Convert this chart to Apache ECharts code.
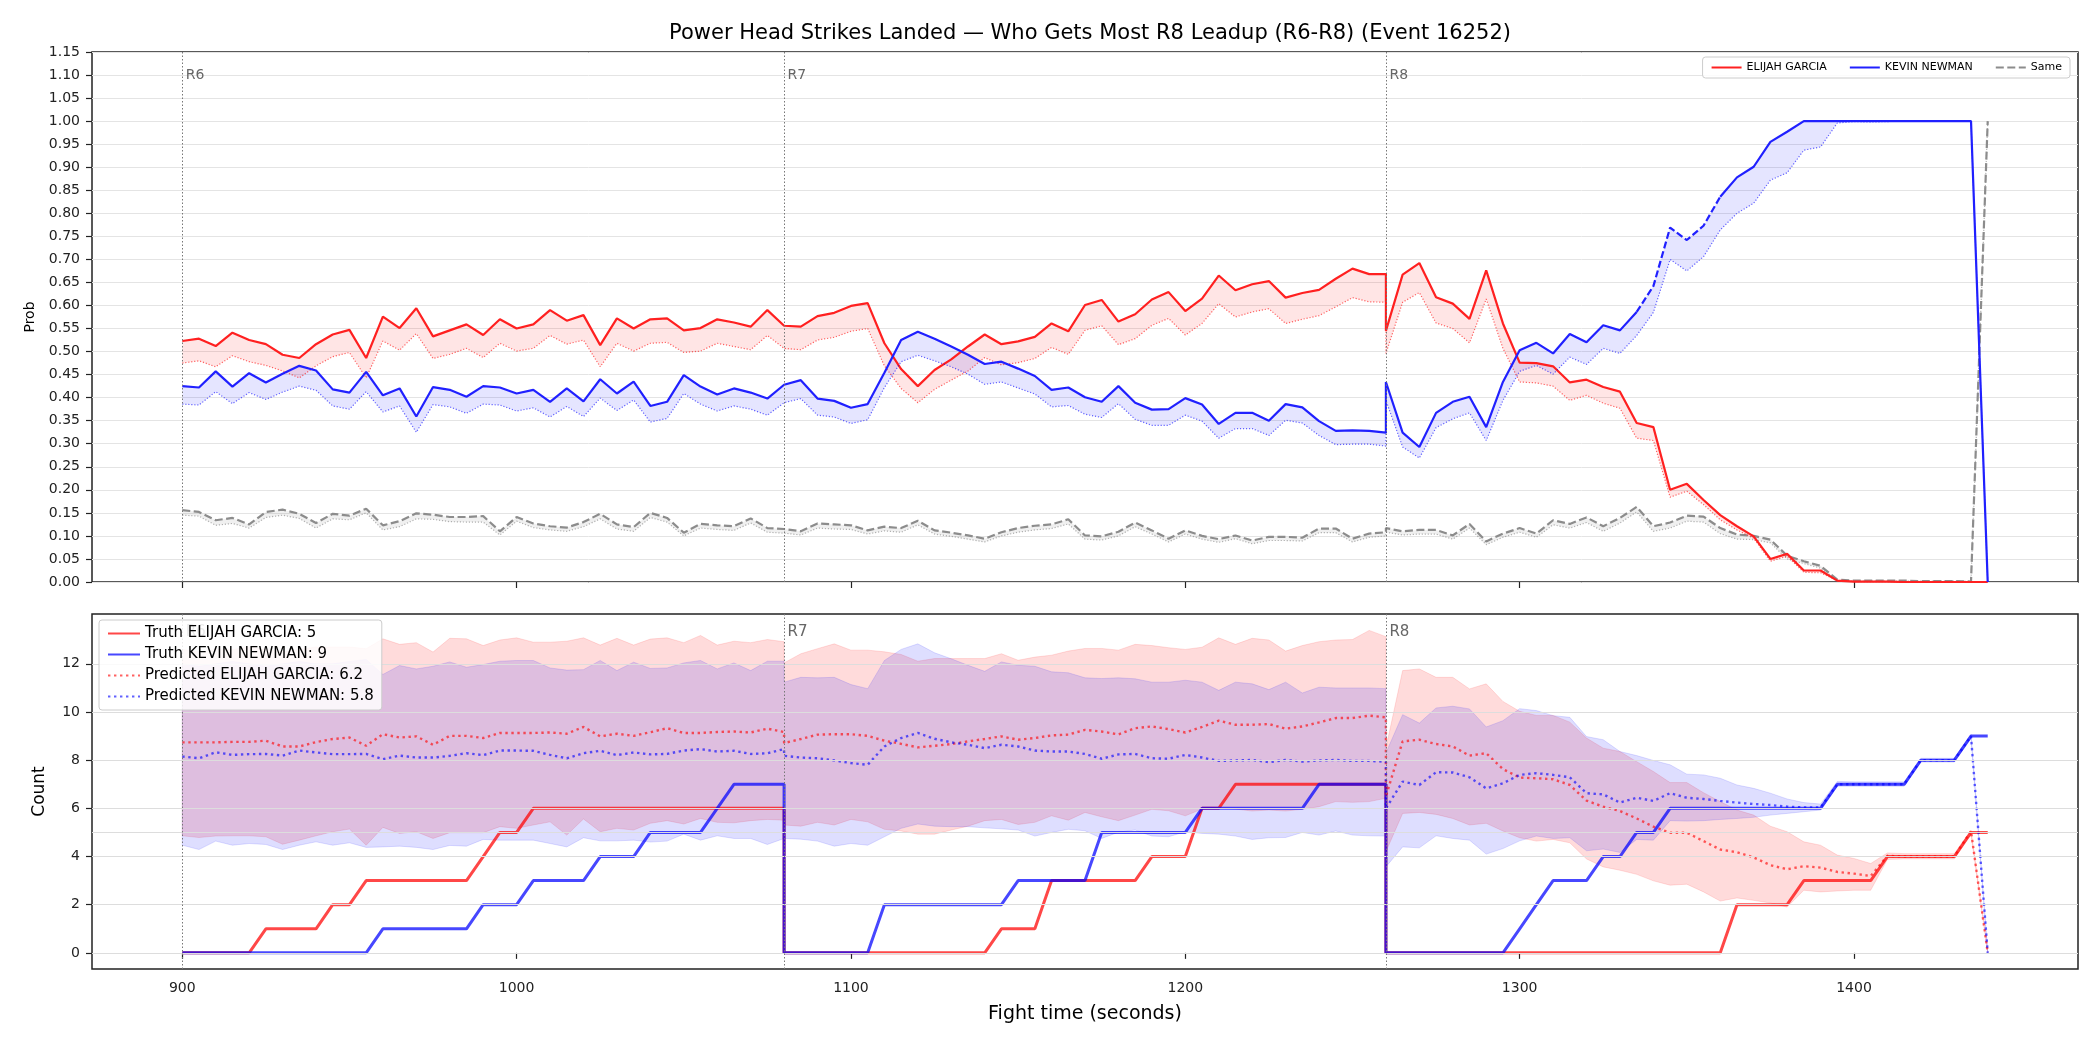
<!DOCTYPE html>
<html>
<head>
    <meta charset="utf-8">
    <title>Power Head Strikes Landed</title>
    <script src="https://cdn.jsdelivr.net/npm/echarts@6.0.0/dist/echarts.min.js"></script>
    <style>
        html, body { margin: 0; padding: 0; background: #fff; }
        #main { width: 2100px; height: 1050px; }
    </style>
</head>
<body>
    <div id="main"></div>
    <script type="text/javascript">
// sample times per round (each round starts where the previous ended)
var r6Times = [900,905,910,915,920,925,930,935,940,945,950,955,960,965,970,975,980,985,990,995,1000,1005,1010,1015,1020,1025,1030,1035,1040,1045,1050,1055,1060,1065,1070,1075,1080];
var r7Times = [1080,1085,1090,1095,1100,1105,1110,1115,1120,1125,1130,1135,1140,1145,1150,1155,1160,1165,1170,1175,1180,1185,1190,1195,1200,1205,1210,1215,1220,1225,1230,1235,1240,1245,1250,1255,1260];
var r8Times = [1260,1265,1270,1275,1280,1285,1290,1295,1300,1305,1310,1315,1320,1325,1330,1335,1340,1345,1350,1355,1360,1365,1370,1375,1380,1385,1390,1395,1400,1405,1410,1415,1420,1425,1430,1435,1440];
var times = r6Times.concat(r7Times, r8Times);

var roundStarts = [900, 1080, 1260];
var roundNames = ['R6', 'R7', 'R8'];
var xTicks = [900, 1000, 1100, 1200, 1300, 1400];
var countTicks = [0, 2, 4, 6, 8, 10, 12];
var countGrid = [0, 2, 4, 5, 6, 8, 10, 12];

// top panel: probability of most strikes
var redProb = [
    0.523,0.528,0.512,0.541,0.525,0.516,0.493,0.486,0.516,0.537,0.547,0.486,0.576,0.551,0.594,0.533,0.546,0.559,0.536,0.570,0.550,0.559,0.590,0.567,0.579,0.514,0.572,0.550,0.570,0.572,0.546,0.551,0.570,0.563,0.554,0.590,0.556,
    0.554,0.554,0.577,0.584,0.599,0.605,0.518,0.462,0.425,0.460,0.483,0.511,0.537,0.516,0.522,0.532,0.561,0.544,0.601,0.612,0.565,0.581,0.613,0.629,0.588,0.615,0.665,0.633,0.646,0.653,0.617,0.627,0.634,0.658,0.680,0.668,0.668,
    0.545,0.667,0.692,0.618,0.604,0.571,0.676,0.561,0.476,0.475,0.468,0.433,0.439,0.423,0.413,0.345,0.336,0.200,0.213,0.178,0.145,0.121,0.099,0.050,0.061,0.025,0.025,0.003,0.001,0.001,0.001,0,0,0,0,0,0
];
var redProbLo = [
    0.475,0.480,0.467,0.491,0.478,0.470,0.458,0.443,0.469,0.489,0.498,0.443,0.523,0.503,0.539,0.485,0.494,0.507,0.487,0.518,0.501,0.507,0.535,0.516,0.525,0.467,0.518,0.501,0.518,0.520,0.498,0.501,0.518,0.511,0.504,0.535,0.507,
    0.504,0.504,0.525,0.531,0.544,0.550,0.469,0.420,0.389,0.418,0.438,0.458,0.487,0.471,0.476,0.485,0.509,0.494,0.546,0.556,0.515,0.528,0.557,0.572,0.536,0.561,0.604,0.575,0.586,0.593,0.561,0.570,0.578,0.597,0.617,0.608,0.607,
    0.496,0.607,0.628,0.562,0.550,0.519,0.614,0.507,0.434,0.432,0.425,0.394,0.405,0.388,0.377,0.312,0.307,0.184,0.197,0.168,0.135,0.113,0.095,0.045,0.056,0.021,0.020,0.003,0.001,0,0,0,0,0,0,0,0
];
var blueProb = [
    0.425,0.422,0.457,0.424,0.453,0.433,0.452,0.469,0.459,0.418,0.411,0.456,0.405,0.420,0.359,0.423,0.417,0.402,0.425,0.422,0.409,0.417,0.391,0.420,0.392,0.440,0.409,0.435,0.382,0.391,0.449,0.424,0.407,0.420,0.411,0.398,0.428,
    0.428,0.438,0.398,0.393,0.378,0.386,0.454,0.525,0.543,0.528,0.511,0.493,0.473,0.478,0.463,0.447,0.417,0.422,0.401,0.391,0.425,0.389,0.374,0.375,0.399,0.385,0.343,0.367,0.367,0.350,0.386,0.379,0.349,0.328,0.329,0.328,0.324,
    0.434,0.324,0.293,0.367,0.391,0.402,0.336,0.434,0.503,0.519,0.496,0.538,0.520,0.557,0.546,0.586,0.642,0.769,0.742,0.773,0.836,0.878,0.901,0.955,0.977,1,1,1,1,1,1,1,1,1,1,1,0
];
var blueProbLo = [
    0.386,0.384,0.413,0.387,0.411,0.396,0.412,0.425,0.416,0.382,0.375,0.413,0.369,0.382,0.325,0.385,0.380,0.366,0.386,0.384,0.371,0.378,0.358,0.381,0.359,0.399,0.372,0.395,0.347,0.355,0.409,0.386,0.371,0.382,0.375,0.362,0.389,
    0.389,0.398,0.362,0.358,0.344,0.352,0.422,0.478,0.492,0.480,0.467,0.451,0.429,0.434,0.421,0.408,0.380,0.383,0.364,0.357,0.387,0.353,0.340,0.340,0.362,0.349,0.312,0.333,0.333,0.318,0.351,0.345,0.318,0.298,0.299,0.299,0.295,
    0.394,0.293,0.269,0.335,0.354,0.367,0.307,0.394,0.457,0.470,0.451,0.488,0.472,0.507,0.496,0.535,0.585,0.700,0.675,0.706,0.764,0.800,0.822,0.872,0.888,0.937,0.944,0.996,0.999,0.998,0.999,1,1,1,1,1,0
];
var sameProb = [
    0.156,0.152,0.134,0.139,0.125,0.152,0.157,0.148,0.128,0.148,0.144,0.159,0.123,0.132,0.149,0.146,0.141,0.141,0.143,0.110,0.141,0.127,0.121,0.118,0.130,0.148,0.125,0.119,0.150,0.139,0.107,0.126,0.123,0.121,0.138,0.117,0.115,
    0.115,0.110,0.127,0.125,0.123,0.112,0.120,0.117,0.133,0.112,0.107,0.101,0.094,0.108,0.117,0.122,0.125,0.136,0.101,0.099,0.109,0.129,0.112,0.094,0.112,0.100,0.093,0.101,0.090,0.098,0.098,0.096,0.116,0.116,0.094,0.105,0.108,
    0.117,0.110,0.113,0.113,0.101,0.126,0.088,0.105,0.117,0.105,0.134,0.126,0.140,0.121,0.139,0.163,0.121,0.129,0.144,0.142,0.117,0.103,0.100,0.092,0.057,0.045,0.035,0.005,0.003,0.003,0.003,0.003,0.002,0.002,0.002,0.001,1
];
var sameProbLo = [
    0.145,0.143,0.123,0.127,0.117,0.140,0.145,0.138,0.117,0.137,0.135,0.150,0.113,0.120,0.137,0.136,0.131,0.130,0.130,0.102,0.132,0.118,0.113,0.110,0.120,0.137,0.115,0.110,0.140,0.130,0.100,0.117,0.114,0.112,0.128,0.108,0.106,
    0.106,0.102,0.117,0.115,0.114,0.104,0.111,0.108,0.124,0.104,0.099,0.093,0.087,0.100,0.108,0.113,0.116,0.126,0.093,0.091,0.100,0.120,0.104,0.087,0.104,0.093,0.086,0.094,0.083,0.090,0.090,0.089,0.107,0.107,0.087,0.097,0.100,
    0.108,0.102,0.104,0.104,0.093,0.117,0.081,0.097,0.108,0.097,0.124,0.117,0.129,0.110,0.128,0.152,0.110,0.117,0.132,0.130,0.105,0.093,0.092,0.085,0.050,0.040,0.030,0.003,0.002,0.002,0.002,0.002,0.002,0.002,0.002,0.001,1
];

// bottom panel: counts
var truthRed = [
    0,0,0,0,0,1,1,1,1,2,2,3,3,3,3,3,3,3,4,5,5,6,6,6,6,6,6,6,6,6,6,6,6,6,6,6,6,
    0,0,0,0,0,0,0,0,0,0,0,0,0,1,1,1,3,3,3,3,3,3,4,4,4,6,6,7,7,7,7,7,7,7,7,7,7,
    0,0,0,0,0,0,0,0,0,0,0,0,0,0,0,0,0,0,0,0,0,2,2,2,2,3,3,3,3,3,4,4,4,4,4,5,5
];
var truthBlue = [
    0,0,0,0,0,0,0,0,0,0,0,0,1,1,1,1,1,1,2,2,2,3,3,3,3,4,4,4,5,5,5,5,6,7,7,7,7,
    0,0,0,0,0,0,2,2,2,2,2,2,2,2,3,3,3,3,3,5,5,5,5,5,5,6,6,6,6,6,6,6,7,7,7,7,7,
    0,0,0,0,0,0,0,0,1,2,3,3,3,4,4,5,5,6,6,6,6,6,6,6,6,6,6,7,7,7,7,7,8,8,8,9,9
];
var predRed = [
    8.74,8.74,8.74,8.76,8.76,8.81,8.57,8.57,8.75,8.88,8.94,8.60,9.08,8.94,8.99,8.64,9.01,9.01,8.92,9.13,9.13,9.13,9.15,9.10,9.38,8.99,9.10,9.01,9.16,9.33,9.13,9.13,9.17,9.19,9.15,9.31,9.17,
    8.71,8.88,9.06,9.08,9.08,9.01,8.81,8.68,8.53,8.60,8.67,8.78,8.88,8.99,8.85,8.92,9.03,9.06,9.26,9.19,9.07,9.33,9.40,9.29,9.15,9.38,9.64,9.47,9.47,9.50,9.31,9.40,9.57,9.75,9.75,9.85,9.78,
    6.50,8.78,8.85,8.67,8.57,8.19,8.29,7.63,7.28,7.25,7.21,6.97,6.32,6.07,5.89,5.58,5.24,4.99,4.99,4.64,4.29,4.18,3.96,3.64,3.47,3.60,3.54,3.36,3.29,3.19,4.03,4.00,4.00,4.00,4.00,5.06,0
];
var predBlue = [
    8.15,8.08,8.33,8.22,8.25,8.26,8.19,8.40,8.32,8.25,8.25,8.26,8.04,8.19,8.11,8.11,8.18,8.29,8.21,8.40,8.40,8.39,8.22,8.08,8.29,8.39,8.21,8.32,8.24,8.26,8.40,8.46,8.36,8.39,8.26,8.29,8.46,
    8.18,8.11,8.08,7.99,7.88,7.81,8.57,8.92,9.13,8.89,8.74,8.64,8.50,8.64,8.57,8.40,8.36,8.36,8.26,8.06,8.24,8.26,8.08,8.06,8.22,8.11,7.97,7.99,8.01,7.92,8.01,7.94,7.99,8.01,7.97,7.97,7.94,
    6.00,7.11,6.97,7.50,7.49,7.29,6.83,7.04,7.39,7.46,7.39,7.29,6.63,6.58,6.24,6.44,6.31,6.63,6.44,6.39,6.31,6.24,6.18,6.14,6.07,6.04,6.04,7.00,7.00,7.00,7.00,7.00,8.00,8.00,8.00,9.00,0
];
var redHi = [
    12.6,12.5,12.6,12.6,12.7,12.6,12.5,12.6,12.7,12.7,12.7,12.63,13.04,12.81,12.88,12.49,13.06,13.04,12.76,12.99,13.08,12.90,12.90,12.94,13.08,12.78,13.06,12.78,13.03,13.08,12.88,13.18,12.78,12.94,12.88,13.01,12.92,
    12.04,12.42,12.63,12.83,12.57,12.57,12.50,12.39,12.11,12.22,12.22,12.22,12.22,12.42,12.15,12.28,12.36,12.53,12.64,12.64,12.57,12.81,12.76,12.67,12.60,12.69,13.08,12.81,13.06,12.99,12.53,12.76,12.92,12.99,13.01,13.39,13.13,
    8.50,11.72,11.79,11.44,11.44,10.96,11.17,10.44,10.03,9.86,9.86,9.58,8.92,8.50,8.36,7.94,7.53,7.07,7.07,6.65,6.28,5.93,5.72,5.26,5.03,4.61,4.47,4.06,3.92,3.71,4.15,4.12,4.12,4.12,4.12,5.10,0.05
];
var redLo = [
    4.86,4.79,4.85,4.86,4.86,4.82,4.51,4.68,4.86,5.03,5.14,4.47,5.21,4.96,5.03,4.75,4.99,4.99,4.99,5.24,5.17,5.31,5.44,4.89,5.56,5.03,5.17,5.10,5.38,5.49,5.35,5.58,5.42,5.40,5.49,5.54,5.51,
    5.31,5.26,5.42,5.31,5.54,5.44,5.13,5.06,4.93,4.93,5.10,5.26,5.49,5.54,5.33,5.42,5.69,5.51,5.83,5.65,5.49,5.72,5.96,5.90,5.69,5.97,6.04,5.97,5.89,5.93,5.89,5.96,6.07,6.28,6.25,6.28,6.42,
    4.20,5.79,5.83,5.75,5.58,5.31,5.38,5.06,4.78,4.64,4.71,4.57,3.90,3.57,3.43,3.26,2.99,2.81,2.85,2.53,2.15,2.28,2.18,2.07,1.90,2.60,2.53,2.57,2.60,2.60,3.88,3.90,3.90,3.90,3.90,4.90,0
];
var blueHi = [
    12.0,11.9,12.0,12.1,12.0,11.9,12.0,12.1,12.0,12.0,12.1,12.18,11.56,11.93,11.79,11.90,12.08,11.86,11.97,12.11,12.14,12.14,11.83,11.74,11.76,12.14,11.72,12.07,11.81,11.83,12.04,12.14,11.79,12.04,11.72,12.11,12.11,
    11.24,11.44,11.42,11.44,11.14,10.97,12.14,12.60,12.83,12.46,12.21,11.94,11.69,12.08,11.94,11.90,11.67,11.63,11.42,11.39,11.42,11.38,11.24,11.24,11.32,11.24,10.90,11.24,11.17,10.93,11.24,10.79,11.03,11.00,11.00,11.00,10.97,
    8.30,9.89,9.54,10.17,10.24,10.13,9.38,9.64,10.14,10.06,9.85,9.78,8.98,8.85,8.36,8.19,7.99,7.81,7.42,7.39,7.25,6.97,6.83,6.63,6.39,6.24,6.18,7.12,7.10,7.10,7.10,7.10,8.08,8.08,8.08,9.08,0.05
];
var blueLo = [
    4.47,4.29,4.64,4.47,4.54,4.50,4.29,4.47,4.61,4.47,4.57,4.38,4.40,4.43,4.38,4.29,4.46,4.43,4.71,4.68,4.68,4.68,4.54,4.40,4.78,4.65,4.65,4.68,4.60,4.64,4.93,4.68,4.86,4.75,4.75,4.50,4.75,
    4.75,4.72,4.64,4.43,4.54,4.47,4.82,5.17,5.35,5.26,5.24,5.24,5.19,5.15,5.10,4.85,5.00,5.13,5.07,4.75,5.01,5.10,4.85,4.82,5.03,4.96,4.93,4.85,4.71,4.78,4.79,5.00,4.89,5.06,4.89,4.86,4.85,
    3.57,4.40,4.36,4.86,4.75,4.68,4.10,4.33,4.65,4.85,4.75,4.78,4.24,4.31,4.17,4.71,4.68,5.49,5.47,5.49,5.54,5.58,5.63,5.72,5.79,5.86,5.93,6.92,6.92,6.92,6.92,6.92,7.92,7.92,7.92,8.90,0
];

// stretch of the KEVIN NEWMAN probability line drawn dashed
var blueDashSpan = [1335, 1360];

var FONT = 'DejaVu Sans';

function pairs(vals) {
    return times.map(function (t, i) { return [t, vals[i]]; });
}

function band(idx, hi, lo, fill, stroke) {
    return {
        type: 'custom', xAxisIndex: idx, yAxisIndex: idx, silent: true, clip: true, z: 1,
        data: [[times[0], lo[0]]],
        renderItem: function (params, api) {
            var pts = [];
            for (var i = 0; i < times.length; i++) pts.push(api.coord([times[i], hi[i]]));
            for (var j = times.length - 1; j >= 0; j--) pts.push(api.coord([times[j], lo[j]]));
            return {
                type: 'polygon',
                shape: { points: pts },
                style: { fill: fill, stroke: stroke || null, lineWidth: 1 }
            };
        }
    };
}

function line(name, idx, data, color, width, type, z) {
    return {
        name: name, type: 'line', xAxisIndex: idx, yAxisIndex: idx,
        data: data, symbol: 'none', silent: true, z: z || 3,
        lineStyle: { color: color, width: width, type: type || 'solid' },
        itemStyle: { color: color }
    };
}

var dashFrom = times.lastIndexOf(blueDashSpan[0]);
var dashTo = times.lastIndexOf(blueDashSpan[1]);
var blueSolidData = pairs(blueProb).map(function (p, i) {
    return (i > dashFrom && i < dashTo) ? [p[0], null] : p;
});
var blueDashData = pairs(blueProb).map(function (p, i) {
    return (i >= dashFrom && i <= dashTo) ? p : [p[0], null];
});

var roundLines = roundStarts.map(function (x) { return { xAxis: x }; });

var myChart = echarts.init(document.getElementById('main'));

var xAxisBase = {
    type: 'value', min: 873, max: 1467,
    axisLine: { show: false },
    axisTick: { show: true, customValues: xTicks, length: 6, lineStyle: { color: '#222', width: 1.2 } },
    splitLine: { show: false }
};

option = {
    animation: false,
    backgroundColor: '#fff',
    textStyle: { fontFamily: FONT },
    title: {
        text: 'Power Head Strikes Landed \u2014 Who Gets Most R8 Leadup (R6-R8) (Event 16252)',
        left: 1085, top: 18, textAlign: 'center',
        textStyle: { fontFamily: FONT, fontSize: 21, fontWeight: 'normal', color: '#000' }
    },
    grid: [
        { left: 92, right: 22, top: 52, height: 530, show: true, borderColor: '#222', borderWidth: 1.5, backgroundColor: 'transparent' },
        { left: 92, right: 22, top: 614, height: 355, show: true, borderColor: '#222', borderWidth: 1.5, backgroundColor: 'transparent' }
    ],
    legend: [
        {
            data: ['ELIJAH GARCIA', 'KEVIN NEWMAN', 'Same'],
            right: 30, top: 57, orient: 'horizontal', z: 20,
            itemWidth: 30, itemHeight: 12, itemGap: 22, padding: [5, 8],
            itemStyle: { opacity: 0 },
            backgroundColor: 'rgba(255,255,255,0.85)', borderColor: '#cccccc', borderWidth: 1, borderRadius: 3,
            textStyle: { fontFamily: FONT, fontSize: 11, color: '#000' }
        },
        {
            data: ['Truth ELIJAH GARCIA: 5', 'Truth KEVIN NEWMAN: 9', 'Predicted ELIJAH GARCIA: 6.2', 'Predicted KEVIN NEWMAN: 5.8'],
            left: 99, top: 620, orient: 'vertical', z: 20,
            itemWidth: 32, itemHeight: 14, itemGap: 6, padding: [6, 8],
            itemStyle: { opacity: 0 },
            backgroundColor: 'rgba(255,255,255,0.85)', borderColor: '#cccccc', borderWidth: 1, borderRadius: 3,
            textStyle: { fontFamily: FONT, fontSize: 15, color: '#000' }
        }
    ],
    xAxis: [
        Object.assign({}, xAxisBase, { gridIndex: 0, axisLabel: { show: false } }),
        Object.assign({}, xAxisBase, {
            gridIndex: 1,
            name: 'Fight time (seconds)', nameLocation: 'middle', nameGap: 36,
            nameTextStyle: { fontFamily: FONT, fontSize: 19, color: '#000' },
            axisLabel: {
                customValues: xTicks, margin: 12, fontFamily: FONT, fontSize: 14, color: '#222',
                formatter: function (v) { return String(v); }
            }
        })
    ],
    yAxis: [
        {
            type: 'value', gridIndex: 0, min: 0, max: 1.15, interval: 0.05,
            name: 'Prob', nameLocation: 'middle', nameGap: 55,
            nameTextStyle: { fontFamily: FONT, fontSize: 14, color: '#000' },
            axisLine: { show: false },
            axisTick: { show: true, length: 6, lineStyle: { color: '#222', width: 1.2 } },
            axisLabel: {
                margin: 12, fontFamily: FONT, fontSize: 14, color: '#222',
                formatter: function (v) { return v.toFixed(2); }
            },
            splitLine: { show: true, lineStyle: { color: '#e4e4e4', width: 1 } }
        },
        {
            type: 'value', gridIndex: 1, min: -0.67, max: 14.07,
            name: 'Count', nameLocation: 'middle', nameGap: 44,
            nameTextStyle: { fontFamily: FONT, fontSize: 17, color: '#000' },
            axisLine: { show: false },
            axisTick: { show: true, customValues: countTicks, length: 6, lineStyle: { color: '#222', width: 1.2 } },
            axisLabel: { customValues: countTicks, margin: 12, fontFamily: FONT, fontSize: 14, color: '#222' },
            splitLine: { show: false }
        }
    ],
    series: [
        // top panel
        {
            type: 'line', xAxisIndex: 0, yAxisIndex: 0, data: [], silent: true, z: 2,
            markLine: {
                silent: true, symbol: ['none', 'none'], label: { show: false },
                lineStyle: { color: '#777', width: 1, type: [1.5, 2] },
                data: roundLines
            },
            markPoint: {
                symbol: 'circle', symbolSize: 1, itemStyle: { color: 'rgba(0,0,0,0)' },
                label: { show: true, position: 'right', distance: 3, formatter: '{b}', color: '#666', fontFamily: FONT, fontSize: 14 },
                data: roundStarts.map(function (x, i) { return { name: roundNames[i], coord: [x, 1.10] }; })
            }
        },
        band(0, redProb, redProbLo, 'rgba(255,0,0,0.1)'),
        band(0, blueProb, blueProbLo, 'rgba(0,0,255,0.1)'),
        band(0, sameProb, sameProbLo, 'rgba(128,128,128,0.12)'),
        line('Same dotted', 0, pairs(sameProbLo), 'rgba(128,128,128,0.6)', 1.2, [1.2, 1.8]),
        line('Same', 0, pairs(sameProb), '#8c8c8c', 2.2, [8, 3.5]),
        line('ELIJAH GARCIA dotted', 0, pairs(redProbLo), 'rgba(255,0,0,0.6)', 1.2, [1.2, 1.8]),
        line('ELIJAH GARCIA', 0, pairs(redProb), '#ff2020', 2.2),
        line('KEVIN NEWMAN dotted', 0, pairs(blueProbLo), 'rgba(0,0,255,0.6)', 1.2, [1.2, 1.8]),
        line('KEVIN NEWMAN', 0, blueSolidData, '#2020ff', 2.2),
        line('KEVIN NEWMAN', 0, blueDashData, '#2020ff', 2.2, [7, 3]),

        // bottom panel
        {
            type: 'line', xAxisIndex: 1, yAxisIndex: 1, data: [], silent: true, z: 1,
            markLine: {
                silent: true, symbol: ['none', 'none'], label: { show: false },
                data: countGrid.map(function (v) {
                    return { yAxis: v, lineStyle: { color: '#dddddd', width: 1.2, type: 'solid' } };
                }).concat(roundStarts.map(function (x) {
                    return { xAxis: x, lineStyle: { color: '#777', width: 1, type: [1.5, 2] } };
                }))
            },
            markPoint: {
                symbol: 'circle', symbolSize: 1, itemStyle: { color: 'rgba(0,0,0,0)' },
                label: { show: true, position: 'right', distance: 3, formatter: '{b}', color: '#666', fontFamily: FONT, fontSize: 15 },
                data: roundStarts.map(function (x, i) { return { name: roundNames[i], coord: [x, 13.3] }; })
            }
        },
        band(1, redHi, redLo, 'rgba(255,0,0,0.14)', 'rgba(255,0,0,0.12)'),
        band(1, blueHi, blueLo, 'rgba(0,0,255,0.13)', 'rgba(0,0,255,0.12)'),
        line('Truth ELIJAH GARCIA: 5', 1, pairs(truthRed), 'rgba(255,0,0,0.72)', 3),
        line('Truth KEVIN NEWMAN: 9', 1, pairs(truthBlue), 'rgba(0,0,255,0.72)', 3),
        line('Predicted ELIJAH GARCIA: 6.2', 1, pairs(predRed), 'rgba(255,0,0,0.62)', 2.4, [2.4, 3.6]),
        line('Predicted KEVIN NEWMAN: 5.8', 1, pairs(predBlue), 'rgba(0,0,255,0.62)', 2.4, [2.4, 3.6])
    ]
};

myChart.setOption(option);
    </script>
</body>
</html>
